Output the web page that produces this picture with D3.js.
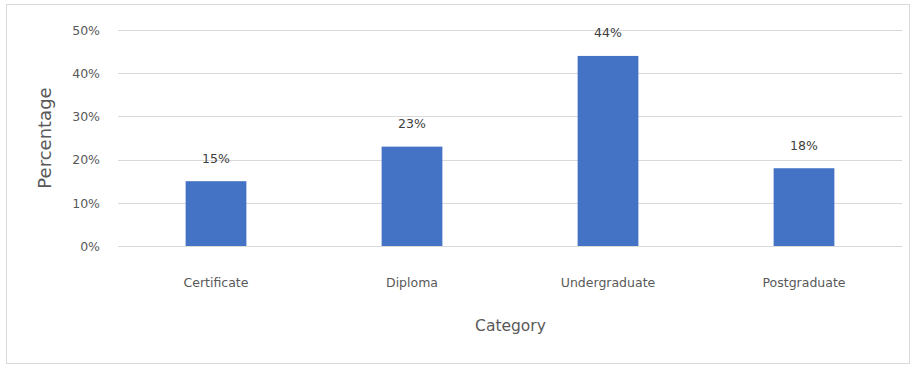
<!DOCTYPE html>
<html>
<head>
<meta charset="utf-8">
<script src="https://cdn.jsdelivr.net/npm/d3@7"></script>
<style>
  html, body { margin: 0; padding: 0; background: #fff; }
  svg { display: block; }
  text { font-family: "DejaVu Sans", "Noto Sans", sans-serif; }
</style>
</head>
<body>
<svg id="chart" width="911" height="366"></svg>
<script>
// Share of respondents by highest qualification
const categories = ["Certificate", "Diploma", "Undergraduate", "Postgraduate"];
const values = [15, 23, 44, 18];
const yTicks = [0, 10, 20, 30, 40, 50];

const W = 911, H = 366;
const margin = { left: 118, right: 8, top: 30, bottom: 120 };

const svg = d3.select("#chart");

// chart frame
svg.append("rect")
  .attr("x", 6.5).attr("y", 4.5)
  .attr("width", W - 8).attr("height", H - 7)
  .attr("fill", "#fff")
  .attr("stroke", "#d9d9d9")
  .attr("stroke-width", 1);

const x = d3.scaleBand()
  .domain(categories)
  .range([margin.left, W - margin.right - 1])
  .paddingInner(0.69)
  .paddingOuter(0.345);

const y = d3.scaleLinear()
  .domain([0, 50])
  .range([246, 30]);

// gridlines
svg.append("g")
  .selectAll("line")
  .data(yTicks)
  .join("line")
  .attr("x1", margin.left)
  .attr("x2", W - margin.right - 1)
  .attr("y1", d => Math.round(y(d)) + 0.5)
  .attr("y2", d => Math.round(y(d)) + 0.5)
  .attr("stroke", "#d9d9d9")
  .attr("stroke-width", 1);

// y axis tick labels
const yAxis = d3.axisLeft(y)
  .tickValues(yTicks)
  .tickFormat(d => d + "%")
  .tickSize(0)
  .tickPadding(0);

svg.append("g")
  .attr("transform", `translate(${margin.left - 18},0)`)
  .call(yAxis)
  .call(g => g.select(".domain").remove())
  .call(g => g.selectAll("text")
    .attr("fill", "#595959")
    .attr("font-size", 12.5)
    .attr("dy", "0.35em"));

// bars
svg.append("g")
  .selectAll("rect")
  .data(values)
  .join("rect")
  .attr("x", (d, i) => x(categories[i]))
  .attr("width", x.bandwidth())
  .attr("y", d => y(d))
  .attr("height", d => y(0) - y(d))
  .attr("fill", "#4472c4");

// value labels
svg.append("g")
  .selectAll("text")
  .data(values)
  .join("text")
  .attr("x", (d, i) => x(categories[i]) + x.bandwidth() / 2)
  .attr("y", d => y(d) - 23)
  .attr("dy", "0.35em")
  .attr("text-anchor", "middle")
  .attr("fill", "#404040")
  .attr("font-size", 12.5)
  .text(d => d + "%");

// category axis
const xAxis = d3.axisBottom(x).tickSize(0).tickPadding(0);
svg.append("g")
  .attr("transform", `translate(0,${y(0) + 37})`)
  .call(xAxis)
  .call(g => g.select(".domain").remove())
  .call(g => g.selectAll("text")
    .attr("fill", "#595959")
    .attr("font-size", 12.5)
    .attr("dy", "0.35em"));

// axis titles
svg.append("text")
  .attr("x", (margin.left + W - margin.right) / 2)
  .attr("y", 326)
  .attr("dy", "0.35em")
  .attr("text-anchor", "middle")
  .attr("fill", "#595959")
  .attr("font-size", 15.5)
  .text("Category");

svg.append("text")
  .attr("transform", `translate(45,138) rotate(-90)`)
  .attr("dy", "0.35em")
  .attr("text-anchor", "middle")
  .attr("fill", "#595959")
  .attr("font-size", 18)
  .text("Percentage");
</script>
</body>
</html>
